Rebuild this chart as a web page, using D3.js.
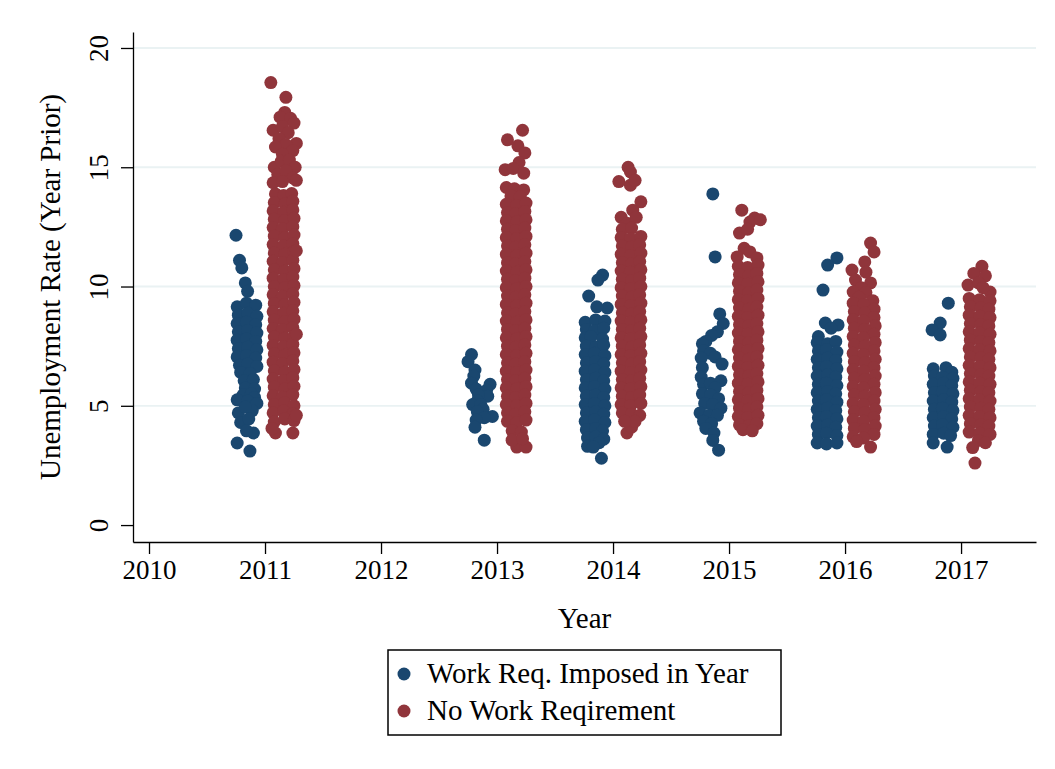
<!DOCTYPE html>
<html>
<head>
<meta charset="utf-8">
<script src="https://d3js.org/d3.v7.min.js"></script>
<style>
body { margin: 0; background: #fff; }
text { font-family: "Liberation Serif", "Times New Roman", serif; fill: #000; }
</style>
</head>
<body>
<svg id="chart" width="1055" height="769"></svg>
<script>
// ticks and labels
var years = [2010, 2011, 2012, 2013, 2014, 2015, 2016, 2017]
var yTicks = [0, 5, 10, 15, 20]
var seriesNames = ["Work Req. Imposed in Year", "No Work Reqirement"]

// points: [offset from year, unemployment rate]
var workReq2011 = [
  [-.25,12.15],[-.22,11.1],[-.20,10.78],[-.17,10.15],[-.15,9.8],
  [-.24,9.15],[-.16,9.3],[-.08,9.22],[-.23,8.8],[-.15,8.88],[-.07,8.75],
  [-.24,8.45],[-.16,8.5],[-.08,8.4],[-.23,8.1],[-.15,8.15],[-.07,8.05],
  [-.24,7.75],[-.16,7.8],[-.08,7.7],[-.23,7.4],[-.15,7.45],[-.07,7.35],
  [-.24,7.05],[-.16,7.1],[-.08,7.0],[-.22,6.7],[-.15,6.75],[-.07,6.65],
  [-.21,6.4],[-.13,6.35],[-.18,6.05],[-.10,6.1],[-.17,5.75],[-.09,5.7],
  [-.19,5.45],[-.12,5.5],[-.24,5.25],[-.09,5.35],[-.15,5.2],[-.07,5.1],
  [-.23,4.7],[-.11,4.8],[-.17,4.95],[-.21,4.3],[-.14,4.45],
  [-.10,3.86],[-.16,3.95],[-.24,3.44],[-.13,3.1]
]
var workReq2013 = [
  [-.22,7.15],[-.25,6.85],[-.19,6.5],[-.20,6.25],[-.22,5.95],[-.18,5.7],
  [-.06,5.9],[-.09,5.65],[-.08,5.4],[-.16,5.45],[-.17,5.2],[-.21,5.05],
  [-.14,5.05],[-.12,4.85],[-.17,4.75],[-.04,4.55],[-.11,4.5],[-.18,4.4],
  [-.19,4.1],[-.11,3.56]
]
var workReq2014 = [
  [-.09,10.48],[-.13,10.27],[-.21,9.6],[-.05,9.1],[-.14,9.15],
  [-.24,8.5],[-.15,8.6],[-.07,8.55],[-.23,8.2],[-.16,8.15],[-.08,8.25],
  [-.24,7.85],[-.19,7.9],[-.09,7.8],[-.23,7.5],[-.15,7.45],[-.08,7.55],
  [-.24,7.15],[-.16,7.2],[-.07,7.1],[-.23,6.8],[-.15,6.85],[-.08,6.75],
  [-.24,6.45],[-.16,6.5],[-.07,6.4],[-.23,6.1],[-.15,6.15],[-.08,6.05],
  [-.24,5.75],[-.16,5.8],[-.07,5.7],[-.23,5.4],[-.15,5.45],[-.08,5.35],
  [-.24,5.05],[-.16,5.1],[-.07,5.0],[-.23,4.7],[-.15,4.75],[-.08,4.65],
  [-.24,4.35],[-.16,4.4],[-.07,4.3],[-.23,4.0],[-.15,4.05],[-.09,3.95],
  [-.22,3.65],[-.15,3.7],[-.08,3.6],[-.22,3.3],[-.12,3.45],[-.17,3.27],[-.10,2.8]
]
var workReq2015 = [
  [-.14,13.88],[-.12,11.24],[-.08,8.85],[-.05,8.45],[-.10,8.1],[-.15,7.95],
  [-.20,7.7],[-.23,7.6],[-.22,7.3],[-.16,7.2],[-.24,7.0],[-.12,7.05],
  [-.06,6.75],[-.23,6.6],[-.24,6.2],[-.22,5.9],[-.16,5.95],[-.07,6.05],
  [-.12,5.75],[-.23,5.5],[-.16,5.45],[-.09,5.3],[-.21,5.1],[-.14,5.05],
  [-.07,4.9],[-.25,4.7],[-.17,4.6],[-.10,4.6],[-.22,4.35],[-.15,4.25],
  [-.20,4.05],[-.13,3.86],[-.14,3.55],[-.09,3.14]
]
var workReq2016 = [
  [-.07,11.2],[-.15,10.9],[-.19,9.85],[-.17,8.47],[-.06,8.39],[-.12,8.25],[-.23,7.9],
  [-.24,7.65],[-.15,7.6],[-.08,7.7],[-.23,7.3],[-.16,7.35],[-.07,7.25],
  [-.24,6.95],[-.15,7.0],[-.08,6.9],[-.23,6.6],[-.16,6.65],[-.07,6.55],
  [-.24,6.25],[-.15,6.3],[-.08,6.2],[-.23,5.9],[-.16,5.95],[-.07,5.85],
  [-.24,5.55],[-.15,5.6],[-.08,5.5],[-.23,5.2],[-.16,5.25],[-.07,5.15],
  [-.24,4.85],[-.15,4.9],[-.08,4.8],[-.23,4.5],[-.16,4.55],[-.07,4.45],
  [-.24,4.15],[-.15,4.2],[-.08,4.1],[-.23,3.8],[-.16,3.85],[-.07,3.75],
  [-.24,3.44],[-.16,3.4],[-.07,3.44]
]
var workReq2017 = [
  [-.11,9.3],[-.18,8.47],[-.25,8.18],[-.18,7.97],
  [-.24,6.55],[-.13,6.6],[-.08,6.41],
  [-.23,6.25],[-.16,6.2],[-.07,6.15],[-.24,5.9],[-.15,5.95],[-.08,5.85],
  [-.23,5.55],[-.16,5.6],[-.07,5.5],[-.24,5.2],[-.15,5.25],[-.08,5.15],
  [-.23,4.85],[-.16,4.9],[-.07,4.8],[-.24,4.5],[-.15,4.55],[-.08,4.45],
  [-.23,4.15],[-.16,4.2],[-.07,4.1],[-.24,3.8],[-.15,3.85],[-.09,3.75],
  [-.24,3.44],[-.12,3.27]
]

var noReq2011 = [
  [.05,18.55],[.18,17.93],[.17,17.3],[.13,17.1],[.22,17.05],[.25,16.85],
  [.07,16.55],[.15,16.7],[.20,16.45],[.27,16.0],[.12,16.2],[.18,15.95],
  [.24,15.7],[.09,15.85],[.15,15.55],[.08,15.0],[.14,15.25],[.21,15.3],
  [.26,15.0],[.11,14.7],[.18,14.85],[.24,14.55],[.07,14.35],[.15,14.4],[.27,14.45],
  [.09,13.88],[.16,13.82],[.23,13.9],[.08,13.52],[.17,13.46],[.24,13.57],
  [.07,13.17],[.16,13.11],[.24,13.21],[.08,12.82],[.17,12.76],[.25,12.86],
  [.07,12.47],[.15,12.41],[.24,12.51],[.08,12.11],[.17,12.05],[.25,12.16],
  [.07,11.76],[.16,11.7],[.24,11.8],[.08,11.41],[.17,11.35],[.25,11.45],
  [.07,11.06],[.15,11.0],[.24,11.1],[.08,10.7],[.17,10.64],[.25,10.75],
  [.07,10.35],[.16,10.29],[.24,10.4],[.08,10.0],[.17,9.94],[.25,10.04],
  [.07,9.65],[.15,9.59],[.24,9.69],[.08,9.29],[.17,9.24],[.25,9.34],
  [.07,8.94],[.16,8.88],[.24,8.98],[.08,8.59],[.17,8.53],[.25,8.63],
  [.07,8.24],[.15,8.18],[.24,8.28],[.08,7.88],[.17,7.83],[.25,7.93],
  [.07,7.53],[.16,7.47],[.24,7.58],[.08,7.18],[.17,7.12],[.25,7.22],
  [.07,6.83],[.15,6.77],[.24,6.88],[.08,6.47],[.17,6.41],[.25,6.52],
  [.07,6.12],[.16,6.06],[.24,6.18],[.08,5.78],[.17,5.7],[.25,5.82],
  [.07,5.42],[.15,5.36],[.24,5.47],[.08,5.05],[.17,5.12],[.25,5.0],
  [.07,4.7],[.16,4.78],[.24,4.66],[.08,4.32],[.17,4.45],[.25,4.38],
  [.09,3.86],[.24,3.86],[.06,4.05],[.27,4.6],[.27,8.0],[.27,11.5]
]
var noReq2013 = [
  [.22,16.55],[.09,16.15],[.18,15.9],[.24,15.6],[.19,15.2],[.07,14.9],
  [.14,14.95],[.23,14.75],[.08,14.15],[.15,14.1],[.23,14.05],[.12,13.8],[.20,13.75],
  [.08,13.45],[.17,13.4],[.25,13.5],[.09,13.1],[.16,13.05],[.24,13.15],
  [.08,12.75],[.17,12.7],[.25,12.8],[.09,12.4],[.16,12.35],[.24,12.45],
  [.08,12.05],[.17,12.0],[.25,12.1],[.09,11.7],[.16,11.65],[.24,11.75],
  [.08,11.35],[.17,11.3],[.25,11.4],[.09,11.0],[.16,10.95],[.24,11.05],
  [.08,10.65],[.17,10.6],[.25,10.7],[.09,10.3],[.16,10.25],[.24,10.35],
  [.08,9.95],[.17,9.9],[.25,10.0],[.09,9.6],[.16,9.55],[.24,9.65],
  [.08,9.25],[.17,9.2],[.25,9.3],[.09,8.9],[.16,8.85],[.24,8.95],
  [.08,8.55],[.17,8.5],[.25,8.6],[.09,8.2],[.16,8.15],[.24,8.25],
  [.08,7.85],[.17,7.8],[.25,7.9],[.09,7.5],[.16,7.45],[.24,7.55],
  [.08,7.15],[.17,7.1],[.25,7.2],[.09,6.8],[.16,6.75],[.24,6.85],
  [.08,6.45],[.17,6.4],[.25,6.5],[.09,6.1],[.16,6.05],[.24,6.15],
  [.08,5.75],[.17,5.7],[.25,5.8],[.09,5.4],[.16,5.35],[.24,5.45],
  [.08,5.05],[.17,5.0],[.25,5.1],[.09,4.7],[.16,4.65],[.24,4.75],
  [.09,4.35],[.17,4.3],[.25,4.4],[.13,3.95],[.21,3.9],
  [.17,3.27],[.25,3.27],[.13,3.56],[.22,3.62]
]
var noReq2014 = [
  [.13,15.0],[.15,14.8],[.05,14.4],[.15,14.25],[.19,14.45],[.24,13.55],
  [.17,13.2],[.07,12.9],[.12,12.65],[.20,12.9],[.08,12.4],[.16,12.45],
  [.07,12.05],[.15,12.0],[.24,12.1],[.08,11.7],[.16,11.65],[.23,11.75],
  [.07,11.35],[.15,11.3],[.24,11.4],[.08,11.0],[.16,10.95],[.23,11.05],
  [.07,10.65],[.15,10.6],[.24,10.7],[.08,10.3],[.16,10.25],[.23,10.35],
  [.07,9.95],[.15,9.9],[.24,10.0],[.08,9.6],[.16,9.55],[.23,9.65],
  [.07,9.25],[.15,9.2],[.24,9.3],[.08,8.9],[.16,8.85],[.23,8.95],
  [.07,8.55],[.15,8.5],[.24,8.6],[.08,8.2],[.16,8.15],[.23,8.25],
  [.07,7.85],[.15,7.8],[.24,7.9],[.08,7.5],[.16,7.45],[.23,7.55],
  [.07,7.15],[.15,7.1],[.24,7.2],[.08,6.8],[.16,6.75],[.23,6.85],
  [.07,6.45],[.15,6.4],[.24,6.5],[.08,6.1],[.16,6.05],[.23,6.15],
  [.07,5.75],[.15,5.7],[.24,5.8],[.08,5.4],[.16,5.35],[.23,5.45],
  [.07,5.05],[.15,5.0],[.24,5.1],[.08,4.7],[.16,4.65],[.23,4.6],
  [.12,3.86],[.16,4.1],[.19,4.35],[.10,4.35]
]
var noReq2015 = [
  [.11,13.2],[.22,12.87],[.18,12.7],[.27,12.8],[.09,12.24],[.16,12.4],
  [.13,11.6],[.07,11.24],[.18,11.45],[.24,11.2],
  [.08,10.85],[.16,10.8],[.25,10.9],[.09,10.5],[.17,10.45],[.24,10.55],
  [.08,10.15],[.16,10.1],[.25,10.2],[.09,9.8],[.17,9.75],[.24,9.85],
  [.08,9.45],[.16,9.4],[.25,9.5],[.09,9.1],[.17,9.05],[.24,9.15],
  [.08,8.75],[.16,8.7],[.25,8.8],[.09,8.4],[.17,8.35],[.24,8.45],
  [.08,8.05],[.16,8.0],[.25,8.1],[.09,7.7],[.17,7.65],[.24,7.75],
  [.08,7.35],[.16,7.3],[.25,7.4],[.09,7.0],[.17,6.95],[.24,7.05],
  [.08,6.65],[.16,6.6],[.25,6.7],[.09,6.3],[.17,6.25],[.24,6.35],
  [.08,5.95],[.16,5.9],[.25,6.0],[.09,5.6],[.17,5.55],[.24,5.65],
  [.08,5.25],[.16,5.2],[.25,5.3],[.09,4.9],[.17,4.85],[.24,4.95],
  [.08,4.55],[.16,4.5],[.25,4.6],[.09,4.2],[.17,4.15],[.24,4.25],
  [.12,4.0],[.20,3.95]
]
var noReq2016 = [
  [.22,11.82],[.25,11.45],[.17,11.03],[.06,10.69],[.18,10.6],[.09,10.27],
  [.22,10.15],[.14,9.95],[.07,9.77],[.18,9.75],[.12,9.55],[.24,9.4],
  [.07,9.3],[.16,9.25],[.25,9.05],[.08,8.95],[.17,8.9],[.25,8.7],
  [.07,8.6],[.16,8.55],[.26,8.35],[.08,8.25],[.17,8.2],[.25,8.0],
  [.07,7.9],[.16,7.85],[.26,7.65],[.08,7.55],[.17,7.5],[.25,7.3],
  [.07,7.2],[.16,7.15],[.26,6.95],[.08,6.85],[.17,6.8],[.25,6.6],
  [.07,6.5],[.16,6.45],[.26,6.25],[.08,6.15],[.17,6.1],[.25,5.9],
  [.07,5.8],[.16,5.75],[.26,5.55],[.08,5.45],[.17,5.4],[.25,5.2],
  [.07,5.1],[.16,5.05],[.26,4.85],[.08,4.75],[.17,4.7],[.25,4.5],
  [.07,4.4],[.16,4.35],[.26,4.15],[.08,4.05],[.17,4.0],[.25,3.8],
  [.07,3.7],[.16,3.65],[.22,3.27],[.10,3.5]
]
var noReq2017 = [
  [.18,10.85],[.11,10.55],[.21,10.45],[.06,10.06],[.15,10.15],[.25,9.77],[.19,9.95],
  [.07,9.5],[.16,9.45],[.25,9.4],[.08,9.15],[.17,9.1],[.24,9.05],
  [.07,8.8],[.16,8.75],[.25,8.7],[.08,8.45],[.17,8.4],[.24,8.35],
  [.07,8.1],[.16,8.05],[.25,8.0],[.08,7.75],[.17,7.7],[.24,7.65],
  [.07,7.4],[.16,7.35],[.25,7.3],[.08,7.05],[.17,7.0],[.24,6.95],
  [.07,6.7],[.16,6.65],[.25,6.6],[.08,6.35],[.17,6.3],[.24,6.25],
  [.07,6.0],[.16,5.95],[.25,5.9],[.08,5.65],[.17,5.6],[.24,5.55],
  [.07,5.3],[.16,5.25],[.25,5.2],[.08,4.95],[.17,4.9],[.24,4.85],
  [.07,4.6],[.16,4.55],[.25,4.5],[.08,4.25],[.17,4.2],[.24,4.15],
  [.07,3.9],[.16,3.85],[.25,3.8],[.15,3.55],[.21,3.45],[.10,3.25],[.12,2.6]
]

var workReq = [[2011, workReq2011], [2013, workReq2013], [2014, workReq2014],
               [2015, workReq2015], [2016, workReq2016], [2017, workReq2017]]
var noReq = [[2011, noReq2011], [2013, noReq2013], [2014, noReq2014],
             [2015, noReq2015], [2016, noReq2016], [2017, noReq2017]]
var colors = ["#1a476f", "#90353b"]

var svg = d3.select("#chart")
var plotL = 133, plotR = 1036, plotT = 32, plotB = 542
var x = d3.scaleLinear().domain([2009.862, 2017.646]).range([plotL, plotR])
var y = d3.scaleLinear().domain([-0.71, 20.67]).range([plotB, plotT])

// grid
svg.append("g").selectAll("line")
  .data(yTicks.filter(function(d) { return d > 0 }))
  .enter().append("line")
  .attr("x1", plotL).attr("x2", plotR)
  .attr("y1", function(d) { return y(d) }).attr("y2", function(d) { return y(d) })
  .attr("stroke", "#eaf2f3").attr("stroke-width", 1.8)

// points
function flatten(groups) {
  var out = []
  groups.forEach(function(g) {
    g[1].forEach(function(p) { out.push([g[0] + p[0], p[1]]) })
  })
  return out
}
[workReq, noReq].forEach(function(groups, i) {
  svg.append("g").selectAll("circle")
    .data(flatten(groups))
    .enter().append("circle")
    .attr("cx", function(d) { return x(d[0]) })
    .attr("cy", function(d) { return y(d[1]) })
    .attr("r", 6.5)
    .attr("fill", colors[i])
})

// axes
var yAxis = d3.axisLeft(y).tickValues(yTicks).tickSize(12).tickSizeOuter(0)
var gy = svg.append("g").attr("transform", "translate(" + plotL + ",0)").call(yAxis)
gy.selectAll("text")
  .attr("x", 0).attr("y", -25).attr("dy", 0)
  .attr("text-anchor", "middle").attr("transform", "rotate(-90)")
  .style("font-size", "27px").style("font-family", "Liberation Serif")

var xAxis = d3.axisBottom(x).tickValues(years).tickSize(12).tickSizeOuter(0).tickFormat(d3.format("d"))
var gx = svg.append("g").attr("transform", "translate(0," + plotB + ")").call(xAxis)
gx.selectAll("text").attr("y", 37).attr("dy", 0)
  .style("font-size", "27px").style("font-family", "Liberation Serif")

svg.selectAll(".domain, .tick line").attr("stroke", "#000").attr("stroke-width", 1.3)

// titles
svg.append("text").attr("x", (plotL + plotR) / 2).attr("y", 628)
  .attr("text-anchor", "middle").style("font-size", "29px").text("Year")
svg.append("text").attr("transform", "translate(60," + ((plotT + plotB) / 2) + ") rotate(-90)")
  .attr("text-anchor", "middle").style("font-size", "29px").text("Unemployment Rate (Year Prior)")

// legend
var lg = svg.append("g")
lg.append("rect").attr("x", 388).attr("y", 650).attr("width", 393).attr("height", 85)
  .attr("fill", "#fff").attr("stroke", "#000").attr("stroke-width", 1.5)
seriesNames.forEach(function(name, i) {
  lg.append("circle").attr("cx", 404).attr("cy", 674 + i * 37).attr("r", 6.5).attr("fill", colors[i])
  lg.append("text").attr("x", 427).attr("y", 683 + i * 37).style("font-size", "29px").text(name)
})
</script>
</body>
</html>
